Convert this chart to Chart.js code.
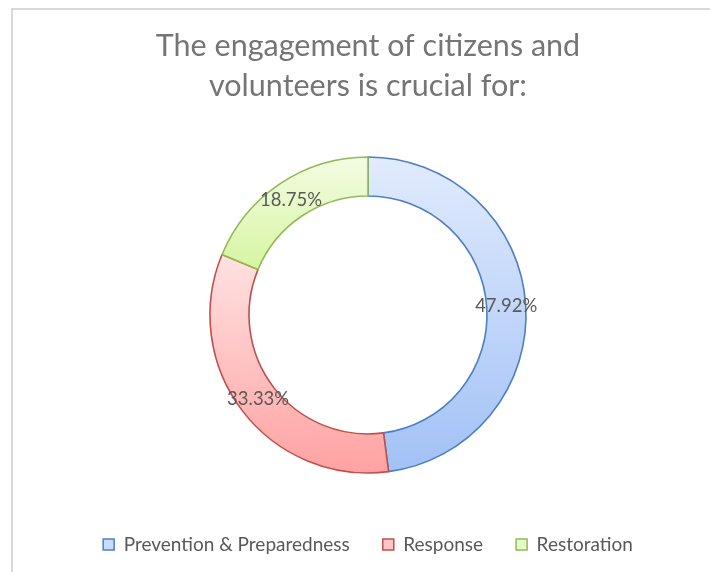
<!DOCTYPE html>
<html>
<head>
<meta charset="utf-8">
<script src="https://cdn.jsdelivr.net/npm/chart.js@4/dist/chart.umd.min.js"></script>
<style>
  html, body { margin: 0; padding: 0; background: #ffffff; overflow: hidden; }
  #wrap { position: relative; width: 710px; height: 572px; }
  #frame {
    position: absolute; left: 11px; top: 8px; right: -20px; bottom: -20px;
    border-left: 2px solid #d9d9d9; border-top: 2px solid #d9d9d9;
    pointer-events: none;
  }
  canvas { position: absolute; left: 0; top: 0; }
</style>
</head>
<body>
<div id="wrap">
  <canvas id="chart" width="710" height="572"></canvas>
  <div id="frame"></div>
</div>
<script>
// Share of answers (percent)
const categories = ['Prevention & Preparedness', 'Response', 'Restoration'];
const shares = [47.92, 33.33, 18.75];
const titleLines = ['The engagement of citizens and', 'volunteers is crucial for:'];

// Per-slice palette: light top, darker bottom, outline
const gradTop = ['#e1ebfd', '#ffe2e2', '#f3fce3'];
const gradBottom = ['#a2c1f6', '#ffa2a2', '#d6f5a2'];
const outline = ['#4f7fc0', '#c0504d', '#93b954'];
const legendFill = ['#c9dbf9', '#ffc6c6', '#e6f9c8'];

const FONT = 'Lato, "Open Sans", sans-serif';

// Vertical gradient spanning each arc's own vertical extent
const arcGradients = {
  id: 'arcGradients',
  beforeDatasetsDraw(chart) {
    const ctx = chart.ctx;
    chart.getDatasetMeta(0).data.forEach((arc, i) => {
      const p = arc.getProps(['x', 'y', 'startAngle', 'endAngle', 'innerRadius', 'outerRadius']);
      let minY = Infinity, maxY = -Infinity;
      const steps = 90;
      for (let s = 0; s <= steps; s++) {
        const a = p.startAngle + (p.endAngle - p.startAngle) * s / steps;
        for (const r of [p.innerRadius, p.outerRadius]) {
          const yy = p.y + Math.sin(a) * r;
          minY = Math.min(minY, yy);
          maxY = Math.max(maxY, yy);
        }
      }
      const g = ctx.createLinearGradient(0, minY, 0, maxY);
      g.addColorStop(0, gradTop[i]);
      g.addColorStop(1, gradBottom[i]);
      arc.options = Object.assign({}, arc.options, { backgroundColor: g });
    });
  }
};

// Percentage labels placed at each arc's centre point
const sliceLabels = {
  id: 'sliceLabels',
  afterDatasetsDraw(chart) {
    const ctx = chart.ctx;
    const values = chart.data.datasets[0].data;
    ctx.save();
    ctx.font = '18.5px ' + FONT;
    ctx.fillStyle = '#595959';
    ctx.textAlign = 'center';
    ctx.textBaseline = 'middle';
    chart.getDatasetMeta(0).data.forEach((arc, i) => {
      const c = arc.getCenterPoint();
      ctx.fillText(values[i].toFixed(2) + '%', c.x, c.y);
    });
    ctx.restore();
  }
};

new Chart(document.getElementById('chart'), {
  type: 'doughnut',
  data: {
    labels: categories,
    datasets: [{
      data: shares,
      backgroundColor: legendFill,
      borderColor: outline,
      borderWidth: 1.6,
      borderAlign: 'center'
    }]
  },
  plugins: [arcGradients, sliceLabels],
  options: {
    responsive: false,
    animation: false,
    radius: 158,
    cutout: '75.3%',
    layout: { padding: { left: 26, right: 0, top: 0, bottom: 8 } },
    plugins: {
      tooltip: { enabled: false },
      title: {
        display: true,
        text: titleLines,
        color: '#757575',
        font: { family: FONT, size: 30.5, weight: 'normal', lineHeight: 1.31 },
        padding: { top: 26, bottom: 22 }
      },
      legend: {
        position: 'bottom',
        labels: {
          color: '#595959',
          font: { family: FONT, size: 19 },
          boxWidth: 11,
          boxHeight: 11,
          padding: 33,
          generateLabels(chart) {
            return chart.data.labels.map((label, i) => ({
              text: label,
              fillStyle: legendFill[i],
              strokeStyle: outline[i],
              lineWidth: 1.5,
              fontColor: '#595959',
              hidden: false,
              index: i
            }));
          }
        }
      }
    }
  }
});
</script>
</body>
</html>
